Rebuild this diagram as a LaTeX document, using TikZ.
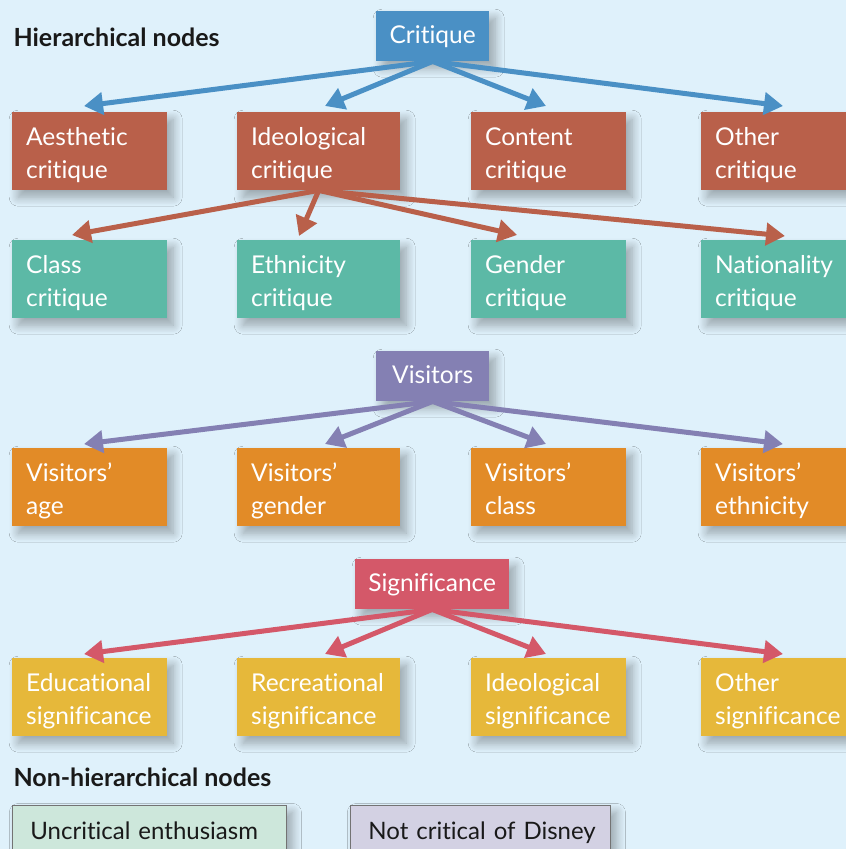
\documentclass[tikz,border=0pt]{standalone}
\usepackage{fontspec}
\setmainfont{Lato}[Ligatures=NoCommon]
\usetikzlibrary{arrows.meta,shadows.blur,calc}
\definecolor{bgc}{HTML}{DFF1FB}
\definecolor{cblue}{HTML}{4A90C5}
\definecolor{cbrick}{HTML}{B9604A}
\definecolor{cteal}{HTML}{5CB9A6}
\definecolor{cpurple}{HTML}{8480B3}
\definecolor{corange}{HTML}{E28B27}
\definecolor{cred}{HTML}{D45869}
\definecolor{cyellow}{HTML}{E6B83A}
\definecolor{cgreen}{HTML}{CDE7DB}
\definecolor{clav}{HTML}{D3D1E3}
\tikzset{
  shad/.style={blur shadow={shadow xshift=6pt,shadow yshift=-7pt,shadow blur radius=9pt,
    shadow blur steps=12,shadow opacity=32}},
  box/.style={shad,anchor=north west,minimum height=78pt,inner xsep=14pt,inner ysep=0pt,
    text height=22.5pt,text depth=34.5pt,
    align=left,text=white,font=\fontsize{24.5}{33}\selectfont},
  w154/.style={text width=127pt},
  w163/.style={text width=135pt},
  topbox/.style={shad,anchor=north west,minimum height=50pt,text=white,
    text height=20pt,text depth=6pt,
    font=\fontsize{24.5}{28}\selectfont,inner sep=0pt},
  arr/.style={line width=5pt,-{Triangle[length=19pt,width=22pt]}},
  heading/.style={anchor=west,font=\bfseries\fontsize{25}{28}\selectfont,text=black!90},
  plainbox/.style={shad,anchor=north west,draw=black!55,line width=0.8pt,minimum height=50pt,
    inner xsep=18pt,inner ysep=0pt,text height=25pt,text depth=6pt,align=left,
    text=black!90,font=\fontsize{24}{28}\selectfont}
}
\begin{document}
\begin{tikzpicture}[x=1pt,y=-1pt]
\useasboundingbox (0,0) rectangle (846,849);
\fill[bgc] (0,0) rectangle (846,849);

\node[heading] (h1) at (10,37) {Hierarchical nodes};

% Critique
\node[topbox,fill=cblue,minimum width=113pt] (crit) at (376,11) {Critique};
\node[box,w154,fill=cbrick] (aes) at (12,112) {Aesthetic\\critique};
\node[box,w163,fill=cbrick] (ideo) at (237,112) {Ideological\\critique};
\node[box,w154,fill=cbrick] (cont) at (471,112) {Content\\critique};
\node[box,w154,fill=cbrick] (oth) at (701,112) {Other\\critique};

\coordinate (t1) at (84,106);
\coordinate (t2) at (325,106);
\coordinate (t3) at (546,106);
\coordinate (t4) at (783,106);
\foreach \t in {t1,t2,t3,t4} \draw[arr,cblue] (crit.south) -- (\t);

% Ideological children
\node[box,w154,fill=cteal] (cls) at (12,240) {Class\\critique};
\node[box,w163,fill=cteal] (eth) at (237,240) {Ethnicity\\critique};
\node[box,w154,fill=cteal] (gen) at (471,240) {Gender\\critique};
\node[box,w154,fill=cteal] (nat) at (701,240) {Nationality\\critique};

\coordinate (u1) at (72,235);
\coordinate (u2) at (299,236);
\coordinate (u3) at (517,235);
\coordinate (u4) at (785,236);
\foreach \t in {u1,u2,u3,u4} \draw[arr,cbrick] (ideo.south) -- (\t);

% Visitors
\node[topbox,fill=cpurple,minimum width=113pt] (vis) at (376,351) {Visitors};
\node[box,w154,fill=corange] (vage) at (12,448) {Visitors’\\age};
\node[box,w163,fill=corange] (vgen) at (237,448) {Visitors’\\gender};
\node[box,w154,fill=corange] (vcls) at (471,448) {Visitors’\\class};
\node[box,w154,fill=corange] (veth) at (701,448) {Visitors’\\ethnicity};

\coordinate (v1) at (84,444);
\coordinate (v2) at (325,444);
\coordinate (v3) at (546,444);
\coordinate (v4) at (783,444);
\foreach \t in {v1,v2,v3,v4} \draw[arr,cpurple] (vis.south) -- (\t);

% Significance
\node[topbox,fill=cred,minimum width=154pt] (sig) at (355,559) {Significance};
\node[box,w154,fill=cyellow] (sedu) at (12,658) {Educational\\significance};
\node[box,w163,fill=cyellow] (srec) at (237,658) {Recreational\\significance};
\node[box,w154,fill=cyellow] (sideo) at (471,658) {Ideological\\significance};
\node[box,w154,fill=cyellow] (soth) at (701,658) {Other\\significance};

\coordinate (s1) at (84,654);
\coordinate (s2) at (325,654);
\coordinate (s3) at (546,654);
\coordinate (s4) at (783,654);
\foreach \t in {s1,s2,s3,s4} \draw[arr,cred] (sig.south) -- (\t);

% Non-hierarchical
\node[heading] (h2) at (10,777) {Non-hierarchical nodes};
\node[plainbox,fill=cgreen,text width=238pt] (unc) at (12,805) {\mbox{Uncritical enthusiasm}};
\node[plainbox,fill=clav,text width=224pt] (ncd) at (350,805) {\mbox{Not critical of Disney}};
\end{tikzpicture}
\end{document}
